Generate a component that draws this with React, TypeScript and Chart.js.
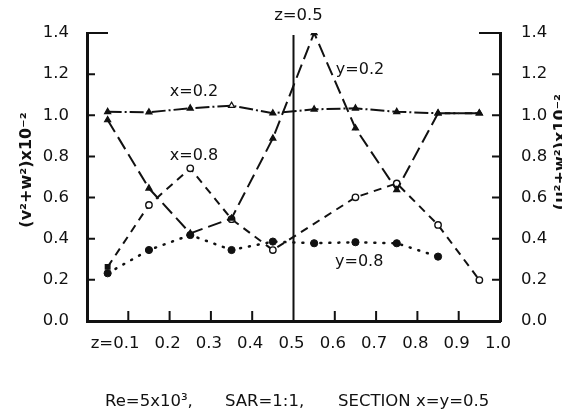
import React, { useEffect, useRef } from 'react';
import { Chart, registerables } from 'chart.js';

Chart.register(...registerables);

// ---- data ----
const zPositions = [0.05, 0.15, 0.25, 0.35, 0.45, 0.55, 0.65, 0.75, 0.85, 0.95];
const seriesX02 = [1.017, 1.015, 1.034, 1.047, 1.01, 1.029, 1.034, 1.017, 1.01, 1.01];
const seriesY02 = [0.977, 0.645, 0.426, 0.499, 0.888, 1.4, 0.937, 0.637, 1.01, 1.01];
const seriesX08 = [0.263, 0.564, 0.742, 0.495, 0.345, null, 0.601, 0.669, 0.467, 0.199];
const seriesY08 = [0.232, 0.345, 0.418, 0.345, 0.386, 0.378, 0.383, 0.378, 0.313, null];
const sectionZ = 0.5;
const sectionTop = 1.39;
const yTickValues = [0, 0.2, 0.4, 0.6, 0.8, 1.0, 1.2, 1.4];
const xTickValues = [0.1, 0.2, 0.3, 0.4, 0.5, 0.6, 0.7, 0.8, 0.9, 1.0];
const seriesNames = ['x=0.2', 'y=0.2', 'x=0.8', 'y=0.8'];
const leftTitle = '(v\u00b2+w\u00b2)x10\u207b\u00b2';
const rightTitle = '(u\u00b2+w\u00b2)x10\u207b\u00b2';
const topLabel = 'z=0.5';
const captionParts = ['Re=5x10\u00b3,', 'SAR=1:1,', 'SECTION x=y=0.5'];

const INK = '#111';
const FONT = "'DejaVu Sans', sans-serif";

const toPoints = (vals: (number | null)[]) =>
  vals.map((v, i) => ({ x: zPositions[i], y: v }));

const extrasPlugin = {
  id: 'figureExtras',
  afterDraw(chart: any) {
    const { ctx, chartArea: a, scales } = chart;
    const xs = scales.x;
    const ys = scales.y;
    ctx.save();
    ctx.strokeStyle = INK;
    ctx.lineWidth = 2;
    // inward y ticks (left and right)
    yTickValues.forEach((v, i) => {
      if (i === 0) return;
      const py = ys.getPixelForValue(v);
      const len = i === yTickValues.length - 1 ? 21 : 8;
      ctx.beginPath();
      ctx.moveTo(a.left, py);
      ctx.lineTo(a.left + len, py);
      ctx.moveTo(a.right, py);
      ctx.lineTo(a.right - len, py);
      ctx.stroke();
    });
    // inward x ticks
    xTickValues.forEach((z, i) => {
      if (i === xTickValues.length - 1 || Math.abs(z - sectionZ) < 1e-9) return;
      const px = xs.getPixelForValue(z);
      ctx.beginPath();
      ctx.moveTo(px, a.bottom);
      ctx.lineTo(px, a.bottom - 10);
      ctx.stroke();
    });
    ctx.fillStyle = INK;
    // x tick labels
    ctx.font = `16.5px ${FONT}`;
    ctx.textBaseline = 'middle';
    ctx.textAlign = 'center';
    const ly = a.bottom + 23;
    xTickValues.forEach((z) => {
      ctx.fillText(z.toFixed(1), xs.getPixelForValue(z) - 2, ly);
    });
    const firstW = ctx.measureText(xTickValues[0].toFixed(1)).width;
    ctx.textAlign = 'right';
    ctx.fillText('z=', xs.getPixelForValue(xTickValues[0]) - 2 - firstW / 2, ly);

    // top label
    ctx.textAlign = 'center';
    ctx.fillText(topLabel, xs.getPixelForValue(sectionZ) + 5, a.top - 17);

    // series annotations
    ctx.font = `16px ${FONT}`;
    const ann: [string, number, number][] = [
      [seriesNames[0], 0.259, 1.113],
      [seriesNames[1], 0.661, 1.22],
      [seriesNames[2], 0.259, 0.802],
      [seriesNames[3], 0.659, 0.287],
    ];
    ann.forEach(([t, z, v]) => {
      ctx.fillText(t, xs.getPixelForValue(z), ys.getPixelForValue(v));
    });

    // axis titles (rotated)
    ctx.font = `bold 16px ${FONT}`;
    ctx.save();
    ctx.translate(a.left - 60, (a.top + a.bottom) / 2 - 7);
    ctx.rotate(-Math.PI / 2);
    ctx.fillText(leftTitle, 0, 0);
    ctx.restore();
    ctx.save();
    ctx.translate(a.right + 61, (a.top + a.bottom) / 2 - 25);
    ctx.rotate(-Math.PI / 2);
    ctx.fillText(rightTitle, 0, 0);
    ctx.restore();

    // caption
    ctx.font = `16.5px ${FONT}`;
    ctx.textAlign = 'left';
    ctx.textBaseline = 'alphabetic';
    const cy = a.bottom + 85;
    ctx.fillText(captionParts[0], a.left + 18, cy);
    ctx.fillText(captionParts[1], a.left + 138, cy);
    ctx.fillText(captionParts[2], a.left + 251, cy);
    ctx.restore();
  },
};

export default function App() {
  const ref = useRef<HTMLCanvasElement | null>(null);

  useEffect(() => {
    document.body.style.margin = '0';
    document.body.style.overflow = 'hidden';
    const canvas = ref.current;
    if (!canvas) return;
    const x02Fill = seriesX02.map((_, i) => (i === 3 ? '#fff' : INK));
    const x08Fill = seriesX08.map((_, i) => (i === 0 ? INK : '#fff'));
    const x08Style = seriesX08.map((_, i) => (i === 0 ? 'rect' : 'circle'));

    const yTickOpts = (pad: number) => ({
      stepSize: 0.2,
      padding: pad,
      color: INK,
      font: { size: 16.5, family: FONT },
      callback: (v: any) => Number(v).toFixed(1),
    });

    const chart = new Chart(canvas, {
      type: 'line',
      data: {
        datasets: [
          {
            label: 'section',
            data: [
              { x: sectionZ, y: 0 },
              { x: sectionZ, y: sectionTop },
            ],
            borderColor: INK,
            borderWidth: 2,
            pointRadius: 0,
          },
          {
            label: seriesNames[0],
            data: toPoints(seriesX02),
            borderColor: INK,
            borderWidth: 2,
            borderDash: [14, 3, 2, 3],
            pointStyle: 'triangle',
            pointRadius: 3.5,
            pointBackgroundColor: x02Fill,
            pointBorderColor: INK,
            pointBorderWidth: 1.2,
          },
          {
            label: seriesNames[1],
            data: toPoints(seriesY02),
            borderColor: INK,
            borderWidth: 2,
            borderDash: [14, 6],
            pointStyle: 'triangle',
            pointRadius: 3.5,
            pointBackgroundColor: INK,
            pointBorderColor: INK,
            pointBorderWidth: 1.2,
          },
          {
            label: seriesNames[2],
            data: toPoints(seriesX08),
            spanGaps: true,
            borderColor: INK,
            borderWidth: 2,
            borderDash: [8, 6],
            pointStyle: x08Style as any,
            pointRadius: 3.2,
            pointBackgroundColor: x08Fill,
            pointBorderColor: INK,
            pointBorderWidth: 1.4,
          },
          {
            label: seriesNames[3],
            data: toPoints(seriesY08),
            borderColor: INK,
            borderWidth: 2.5,
            borderDash: [1, 8],
            borderCapStyle: 'round',
            pointStyle: 'circle',
            pointRadius: 3.6,
            pointBackgroundColor: INK,
            pointBorderColor: INK,
            pointBorderWidth: 1,
          },
        ],
      },
      options: {
        responsive: false,
        animation: false,
        devicePixelRatio: 1,
        layout: { padding: { top: 33, left: 0, right: 0, bottom: 0 } },
        plugins: {
          legend: { display: false },
          tooltip: { enabled: false },
          title: { display: false },
        },
        scales: {
          x: {
            type: 'linear',
            min: 0,
            max: 1,
            ticks: { display: false },
            grid: { display: false },
            border: { display: true, color: INK, width: 3 },
            afterFit: (s: any) => {
              s.height = 88;
            },
          },
          y: {
            type: 'linear',
            position: 'left',
            min: 0,
            max: 1.4,
            ticks: yTickOpts(10),
            grid: { display: false },
            border: { display: true, color: INK, width: 3 },
            afterFit: (s: any) => {
              s.width = 87;
            },
          },
          y2: {
            type: 'linear',
            position: 'right',
            min: 0,
            max: 1.4,
            ticks: yTickOpts(13),
            grid: { display: false },
            border: { display: true, color: INK, width: 3 },
            afterFit: (s: any) => {
              s.width = 62;
            },
          },
        },
      },
      plugins: [extrasPlugin],
    } as any);
    return () => chart.destroy();
  }, []);

  return (
    <canvas
      ref={ref}
      width={562}
      height={409}
      style={{ display: 'block', width: 562, height: 409, background: '#fff' }}
    />
  );
}
